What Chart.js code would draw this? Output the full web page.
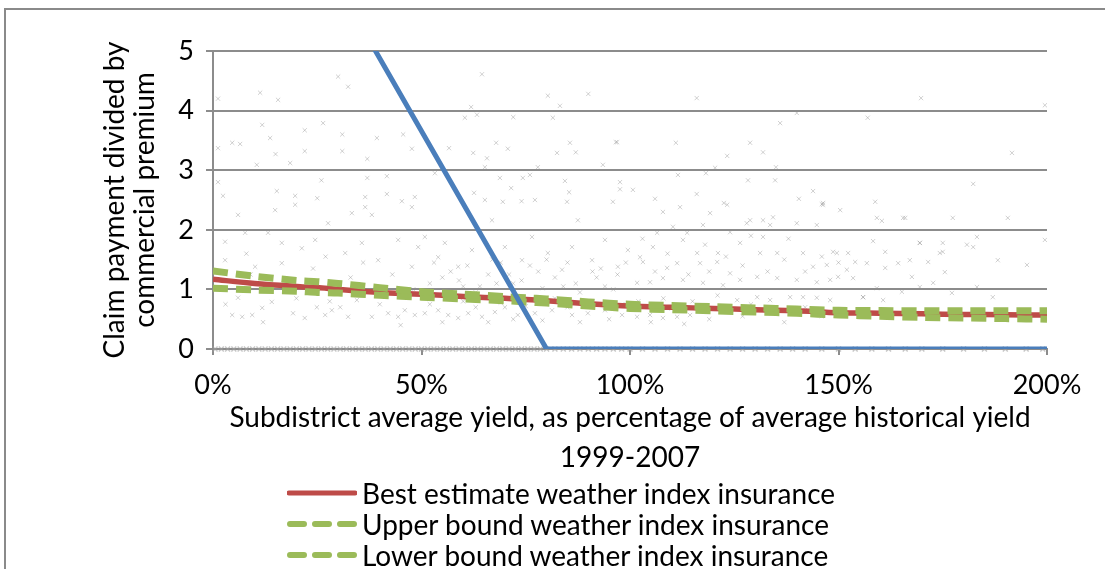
<!DOCTYPE html>
<html>
<head>
<meta charset="utf-8">
<script src="https://cdn.jsdelivr.net/npm/chart.js@4"></script>
<style>
  body { margin: 0; background: #fff; }
  #frame { position: absolute; left: 4px; top: 8px; width: 1200px; height: 700px; border: 2px solid #8a8a8a; }
  #wrap { position: absolute; left: 0; top: 0; width: 1105px; height: 569px; }
  #legend { position: absolute; left: 287px; top: 477px; font-family: Lato, sans-serif; font-size: 28px; color: #000; }
  #legend .row { height: 31px; display: flex; align-items: center; }
  #legend svg { margin-right: 5px; }
</style>
</head>
<body>
<div id="frame"></div>
<div id="wrap"><canvas id="claim_chart" width="1105" height="569"></canvas></div>
<div id="legend">
  <div class="row"><svg width="70" height="10"><line x1="2" y1="5" x2="68" y2="5" stroke="#be4b48" stroke-width="5" stroke-linecap="round"/></svg><span>Best estimate weather index insurance</span></div>
  <div class="row"><svg width="70" height="10"><line x1="3" y1="5" x2="70" y2="5" stroke="#9bbb59" stroke-width="6" stroke-dasharray="14 11" stroke-linecap="round"/></svg><span>Upper bound weather index insurance</span></div>
  <div class="row"><svg width="70" height="10"><line x1="3" y1="5" x2="70" y2="5" stroke="#9bbb59" stroke-width="6" stroke-dasharray="14 11" stroke-linecap="round"/></svg><span>Lower bound weather index insurance</span></div>
</div>
<script>
// yield (% of historical average) where the fitted curves are sampled
var curveYield = [0, 10, 20, 25, 30, 40, 50, 60, 70, 75, 80, 90, 100, 110, 120, 130, 140, 150, 160, 170, 180, 190, 200];
var bestEstimate = [1.17, 1.10, 1.05, 1.03, 1.00, 0.95, 0.92, 0.88, 0.85, 0.83, 0.81, 0.76, 0.72, 0.70, 0.68, 0.66, 0.64, 0.61, 0.60, 0.59, 0.58, 0.575, 0.57];
var upperBound = [1.31, 1.22, 1.15, 1.13, 1.10, 1.03, 0.96, 0.92, 0.88, 0.86, 0.84, 0.79, 0.75, 0.73, 0.71, 0.69, 0.67, 0.65, 0.645, 0.64, 0.64, 0.64, 0.64];
var lowerBound = [1.02, 0.99, 0.97, 0.95, 0.94, 0.90, 0.87, 0.84, 0.81, 0.79, 0.77, 0.72, 0.68, 0.66, 0.64, 0.62, 0.60, 0.57, 0.55, 0.53, 0.52, 0.51, 0.50];

// indemnity-style payout line (blue)
var payoutYield = [0, 80, 200];
var payoutValue = [9.75, 0, 0];

// observed subdistrict years [yield %, claim / premium]
var observedPoints = [
  [30, 4.57], [32.4, 4.4], [11.3, 4.3], [15.6, 4.18], [1.2, 4.2], [11.8, 3.76], [13.7, 3.54], [4.6, 3.46],
  [6.5, 3.44], [1.2, 3.37], [22, 3.67], [26.4, 3.79], [31, 3.6], [39.3, 3.54], [45.6, 3.6], [47.7, 3.36],
  [37, 3.19], [31, 3.32], [22, 3.32], [15, 3.27], [18.5, 3.12], [10.5, 3.09], [1.2, 2.8], [26, 2.83],
  [37, 2.87], [41.7, 2.9], [15.3, 2.65], [19.7, 2.57], [25, 2.53], [36.5, 2.55], [41.7, 2.6], [45.3, 2.48],
  [2.4, 2.57], [48.4, 2.55], [64.5, 4.61], [80.3, 4.25], [83.2, 4.08], [90, 4.28], [61.9, 4.06], [63.3, 3.93],
  [60.4, 3.88], [72, 3.89], [81.5, 3.88], [56.6, 3.37], [67.9, 3.46], [70.7, 3.36], [62.4, 3.29], [65.7, 3.2],
  [82.5, 3.29], [85.6, 3.46], [87, 3.3], [96.9, 3.47], [93.5, 3.09], [65.2, 3.05], [77.9, 3.05], [53.2, 2.95],
  [68.8, 2.87], [74.3, 2.87], [76, 2.92], [71.5, 2.7], [84.4, 2.82], [85.4, 2.63], [97.6, 2.8], [97.6, 2.68],
  [65.2, 2.5], [69.5, 2.47], [74, 2.48], [77.2, 2.5], [84.9, 2.47], [95.9, 2.47], [62.6, 2.62], [116, 4.21],
  [140, 3.96], [136, 3.79], [111, 3.46], [128.8, 3.46], [131.9, 3.3], [123.3, 3.24], [120.4, 3.04], [135, 3.05],
  [111.5, 2.92], [118.2, 2.95], [128.3, 2.83], [134.8, 2.83], [100.7, 2.67], [106, 2.52], [116, 2.6], [122.5, 2.45],
  [140.5, 2.52], [143.9, 2.65], [146.3, 2.45], [169.8, 4.21], [157, 3.88], [191.6, 3.29], [182.3, 2.77], [158.8, 2.47],
  [199.5, 4.09], [96.6, 3.47], [190.6, 2.2], [177.4, 2.2], [166, 2.2], [160.4, 2.15], [150.4, 2.33], [146, 2.43],
  [183.2, 1.88], [199.5, 1.83], [195.2, 1.41], [188.2, 1.49], [182.3, 1.71], [175, 1.78], [175, 1.63], [169.5, 1.78],
  [167.1, 1.49], [171.5, 1.46], [175.5, 1.29], [167.6, 1.21], [164.3, 1.44], [161.2, 1.63], [158.3, 1.81], [152.3, 1.61],
  [148.7, 1.63], [154, 1.46], [156.8, 1.44], [161.2, 1.36], [153.5, 1.19], [149.9, 1.21], [172.7, 1.11], [183.2, 1.04],
  [187, 0.87], [177.2, 0.94], [169.5, 1.04], [165.2, 0.96], [155.9, 0.87], [159.2, 1.02], [2.9, 1.49], [6, 0.86],
  [4.6, 0.57], [7, 0.54], [9.4, 0.57], [11.8, 0.69], [14.1, 0.79], [19.2, 0.6], [22, 0.52], [24.9, 0.7],
  [26.9, 0.57], [28.5, 0.65], [30.5, 0.7], [32.4, 0.54], [34.5, 0.82], [38.1, 0.54], [42, 0.6], [44.4, 0.54],
  [46, 0.65], [48.4, 0.57], [50.8, 0.6], [54, 0.65], [56.4, 0.57], [58.8, 0.52], [61.2, 0.6], [64.5, 0.54],
  [67.6, 0.62], [70, 0.7], [73.1, 0.57], [77.2, 0.6], [81.3, 0.65], [86.1, 0.57], [89.9, 0.6], [94, 0.65],
  [98.1, 0.57], [7.7, 1.95], [13.2, 1.95], [16.5, 1.78], [21.3, 1.69], [24.5, 1.83], [27.6, 2.11], [31.7, 1.61],
  [33.3, 2.28], [35.7, 1.78], [38.1, 2.25], [39.6, 1.49], [44.4, 1.83], [47.7, 1.38], [49.2, 1.71], [50.8, 1.88],
  [54, 1.54], [55.6, 1.78], [58.8, 1.38], [62.1, 1.66], [66.9, 2.16], [70, 1.71], [74.1, 1.49], [76.5, 1.88],
  [80.3, 1.61], [83.7, 1.33], [86.1, 1.71], [87.5, 2.16], [90.9, 1.49], [94, 1.83], [97.1, 1.38], [99.5, 1.66],
  [10.1, 1.38], [16.5, 1.44], [2.9, 1.8], [6, 2.25], [14.9, 2.33], [19.7, 2.42], [36.5, 2.38], [47.7, 2.38],
  [101.7, 0.54], [104.8, 0.57], [107.9, 0.52], [111.3, 0.54], [114.4, 0.57], [118.5, 0.65], [123.3, 0.7], [125.7, 0.82],
  [130.5, 0.87], [133.6, 0.82], [138.4, 0.87], [141.5, 0.87], [144.8, 0.86], [148, 0.82], [155.9, 0.87], [160.7, 0.82],
  [102.4, 1.54], [103.1, 1.46], [105.5, 1.71], [108.9, 1.36], [111.3, 1.44], [112.7, 1.83], [116.1, 1.61], [116.8, 1.44],
  [120.9, 1.46], [121.1, 1.61], [124, 1.27], [126.4, 1.78], [131.2, 1.61], [131.9, 1.88], [135.3, 1.61], [141.5, 1.61],
  [140, 1.16], [144.8, 1.12], [148, 1.16], [149.6, 1.61], [147.2, 1.41], [152, 1.33], [143.9, 1.38], [135.3, 1.19],
  [130.5, 1.21], [126.4, 1.16], [122.3, 1.07], [117.5, 1.11], [112.7, 1.16], [107.9, 1.19], [104.8, 1.12], [101.7, 1.11],
  [106.5, 1.95], [110.3, 2.05], [113.7, 1.95], [117.5, 2.08], [124, 1.96], [128, 2.11], [131.9, 2.16], [133.6, 2.08],
  [140, 2.11], [144.8, 2.08], [159.2, 2.2], [165.5, 2.2], [169.5, 1.78], [174.3, 1.61], [180.8, 1.75], [107.9, 2.3],
  [112, 2.38], [119.2, 2.28], [123.3, 2.42], [128.8, 2.16], [134.3, 2.21], [146.3, 2.42], [55, 1.2], [60, 1.05],
  [66, 1.25], [72, 1.1], [78, 1.3], [84, 1.05], [92, 1.2], [96, 1.0], [63, 0.95], [69, 1.45], [88, 0.95], [93, 1.35],
  [52, 1.1], [57, 1.3], [59, 1.15], [61, 1.4], [64, 1.05], [67, 1.5], [71, 1.25], [74, 1.15], [76, 1.4], [79, 1.02],
  [82, 1.2], [85, 1.45], [87, 1.1], [91, 1.3], [94, 1.05], [97, 1.25], [99, 1.45], [53, 1.45], [68, 1.1], [80, 1.5],
  [52, 0.75], [55, 0.45], [60, 0.8], [63, 0.7], [66, 0.45], [69, 0.78], [72, 0.5], [75, 0.72], [79, 0.48], [82, 0.85],
  [85, 0.7], [88, 0.45], [91, 0.8], [95, 0.5], [99, 0.75], [102, 0.8], [105, 0.45], [108, 0.85], [110, 0.68], [113, 0.42],
  [115, 0.8], [119, 0.5], [121, 0.9], [127, 0.55], [129, 0.75], [134, 0.6], [137, 0.45], [142, 0.7], [146, 0.55], [151, 0.65],
  [103, 1.85], [106, 1.3], [109, 1.6], [114, 1.25], [118, 1.75], [119, 1.3], [123, 1.55], [127, 1.4], [129, 1.9], [133, 1.3],
  [137, 1.5], [138, 1.85], [142, 1.3], [146, 1.55], [150, 1.45], [3, 0.75], [9, 1.25], [12, 0.45], [17, 1.1], [20, 0.85],
  [24, 1.35], [28, 0.8], [33, 1.2], [36, 1.45], [40, 0.75], [43, 1.25], [45, 0.4], [48, 1.0], [27, 1.55], [8, 1.6]
];
// years with no claim, sitting on the zero line
var zeroClaimYield = [0.5, 2, 3.5, 5, 6.5, 8, 9.5, 11, 12.5, 14, 15.5, 17, 18.5, 20, 21.5, 23, 24.5, 26, 27.5, 29,
  30.5, 32, 33.5, 35, 36.5, 38, 39.5, 41, 42.5, 44, 45.5, 47, 48.5, 50, 51.5, 53, 54.5, 56, 57.5, 59, 60.5, 62,
  63.5, 65, 66.5, 68, 69.5, 71, 72.5, 74, 75.5, 77, 78.5, 80, 82, 84, 86, 88, 90, 92, 94, 96, 98, 100, 103, 106,
  109, 112, 115, 118, 121, 124, 127, 130, 133, 136, 139, 142, 146, 150, 154, 158, 162, 166, 170, 175, 180, 185, 190, 195, 199];

function pairs(xs, ys) {
    return xs.map(function(x, i) { return {x: x, y: ys[i]}; });
}

Chart.defaults.font.family = 'Lato, sans-serif';
Chart.defaults.color = '#000';

var gridGray = '#8c8c8c';

var ctx = document.getElementById('claim_chart').getContext('2d');
new Chart(ctx, {
    type: 'scatter',
    data: {
        datasets: [
            {
                label: 'Payout',
                type: 'line',
                data: pairs(payoutYield, payoutValue),
                borderColor: '#4a7ebb',
                borderWidth: 5,
                pointRadius: 0,
                fill: false,
                order: 0
            },
            {
                label: 'Upper bound weather index insurance',
                type: 'line',
                data: pairs(curveYield, upperBound),
                borderColor: '#9bbb59',
                borderWidth: 7,
                borderDash: [15, 8],
                pointRadius: 0,
                tension: 0.3,
                fill: false,
                order: 1
            },
            {
                label: 'Lower bound weather index insurance',
                type: 'line',
                data: pairs(curveYield, lowerBound),
                borderColor: '#9bbb59',
                borderWidth: 7,
                borderDash: [15, 8],
                pointRadius: 0,
                tension: 0.3,
                fill: false,
                order: 2
            },
            {
                label: 'Best estimate weather index insurance',
                type: 'line',
                data: pairs(curveYield, bestEstimate),
                borderColor: '#be4b48',
                borderWidth: 5.5,
                pointRadius: 0,
                tension: 0.3,
                fill: false,
                order: 3
            },
            {
                label: 'No claim',
                data: zeroClaimYield.map(function(x) { return {x: x, y: 0}; }),
                pointStyle: 'crossRot',
                pointRadius: 3.5,
                borderWidth: 1.5,
                borderColor: 'rgba(160,160,160,0.6)',
                clip: false,
                order: 4
            },
            {
                label: 'Observed',
                data: observedPoints.map(function(p) { return {x: p[0], y: p[1]}; }),
                pointStyle: 'crossRot',
                pointRadius: 3,
                borderWidth: 1,
                borderColor: 'rgba(140,140,140,0.4)',
                order: 5
            }
        ]
    },
    options: {
        responsive: false,
        animation: false,
        layout: { padding: { left: 0, top: 51, right: 58, bottom: 91 } },
        plugins: { legend: { display: false }, tooltip: { enabled: false } },
        scales: {
            x: {
                type: 'linear',
                min: 0,
                max: 200,
                ticks: {
                    stepSize: 50,
                    padding: 14,
                    font: { size: 27 },
                    callback: function(v) { return v + '%'; }
                },
                grid: { drawOnChartArea: false, drawTicks: true, tickLength: 6, color: gridGray, lineWidth: 2 },
                border: { color: gridGray, width: 2 },
                title: {
                    display: true,
                    text: ['Subdistrict average yield, as percentage of average historical yield', '1999-2007'],
                    font: { size: 28, lineHeight: 1.43 },
                    padding: 0
                },
                afterFit: function(scale) { scale.height = 129; }
            },
            y: {
                min: 0,
                max: 5,
                ticks: { stepSize: 1, padding: 12, font: { size: 27 } },
                grid: { color: gridGray, lineWidth: 2, tickLength: 7 },
                border: { color: gridGray, width: 2 },
                title: {
                    display: true,
                    text: ['Claim payment divided by', 'commercial premium'],
                    font: { size: 28, lineHeight: 1.07 },
                    padding: { top: 100, bottom: 0 }
                },
                afterFit: function(scale) { scale.width = 213; }
            }
        }
    }
});
</script>
</body>
</html>
